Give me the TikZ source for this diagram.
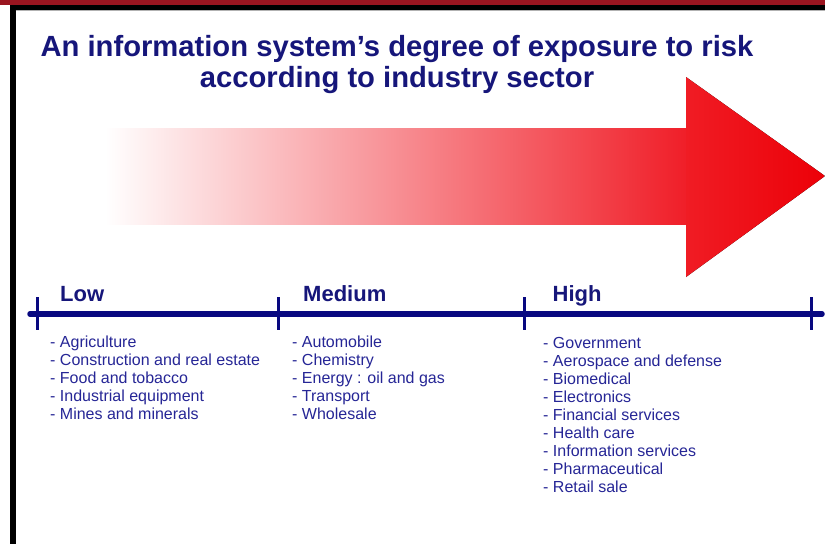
\documentclass[tikz,border=0pt]{standalone}
\usepackage{fontspec}
\setmainfont{Liberation Sans}
\definecolor{framered}{RGB}{155,21,32}
\definecolor{titleblue}{RGB}{22,22,122}
\definecolor{lineblue}{RGB}{8,8,128}
\definecolor{listblue}{RGB}{38,38,150}
\definecolor{shaftmid}{RGB}{249,175,180}
\definecolor{shaftend}{RGB}{240,30,40}
\definecolor{headA}{RGB}{240,28,36}
\definecolor{headB}{RGB}{236,0,8}
\tikzset{
  titletext/.style={font=\fontsize{29.2}{31}\selectfont\bfseries, text=titleblue, inner sep=0pt, anchor=base},
  levellabel/.style={font=\fontsize{22}{24}\selectfont\bfseries, text=titleblue, inner sep=0pt, anchor=base west},
  listitem/.style={font=\fontsize{16}{18}\selectfont, text=listblue, inner sep=0pt, anchor=base west},
  axisline/.style={line width=5.5pt, draw=lineblue, line cap=round},
  tickline/.style={line width=3pt, draw=lineblue}
}
\begin{document}
\begin{tikzpicture}[x=1pt,y=-1pt]
\useasboundingbox (0,0) rectangle (825,544);
\fill[white] (0,0) rectangle (825,544);
% frame
\fill[framered] (0,0) rectangle (825,4.6);
\fill[black] (10.3,4.6) rectangle (825,9.5);
\fill[black] (10.3,4.6) rectangle (15.7,544);
\draw[gray!60, line width=0.8pt] (15.7,10) -- (825,10);
% arrow
\fill[left color=white, middle color=shaftmid, right color=shaftend] (105,128) rectangle (687,224);
\fill[left color=headA, right color=headB] (686,77) -- (825,176) -- (686,277) -- cycle;
% title
\node[titletext] (t1) at (397,56) {An information system’s degree of exposure to risk};
\node[titletext] (t2) at (397,87) {according to industry sector};
% timeline
\coordinate (axL) at (30,314);
\coordinate (axR) at (822,314);
\draw[axisline] (axL) -- (axR);
\foreach \x/\n in {37.5/a,278/b,524/c,811.5/d}{
  \coordinate (tk\n top) at (\x,297);
  \coordinate (tk\n bot) at (\x,330);
  \draw[tickline] (tk\n top) -- (tk\n bot);
}
% labels
\node[levellabel] (low) at (60,301) {Low};
\node[levellabel] (med) at (303,301) {Medium};
\node[levellabel] (high) at (552.5,301) {High};
% lists
\foreach \t [count=\i from 0] in {Agriculture,Construction and real estate,Food and tobacco,Industrial equipment,Mines and minerals}{
  \node[listitem] (lowitem\i) at (50,347+18*\i) {- \t};
}
\foreach \t [count=\i from 0] in {Automobile,Chemistry,Energy : oil and gas,Transport,Wholesale}{
  \node[listitem] (meditem\i) at (292,347+18*\i) {- \t};
}
\foreach \t [count=\i from 0] in {Government,Aerospace and defense,Biomedical,Electronics,Financial services,Health care,Information services,Pharmaceutical,Retail sale}{
  \node[listitem] (highitem\i) at (543,348+18*\i) {- \t};
}
\end{tikzpicture}
\end{document}
